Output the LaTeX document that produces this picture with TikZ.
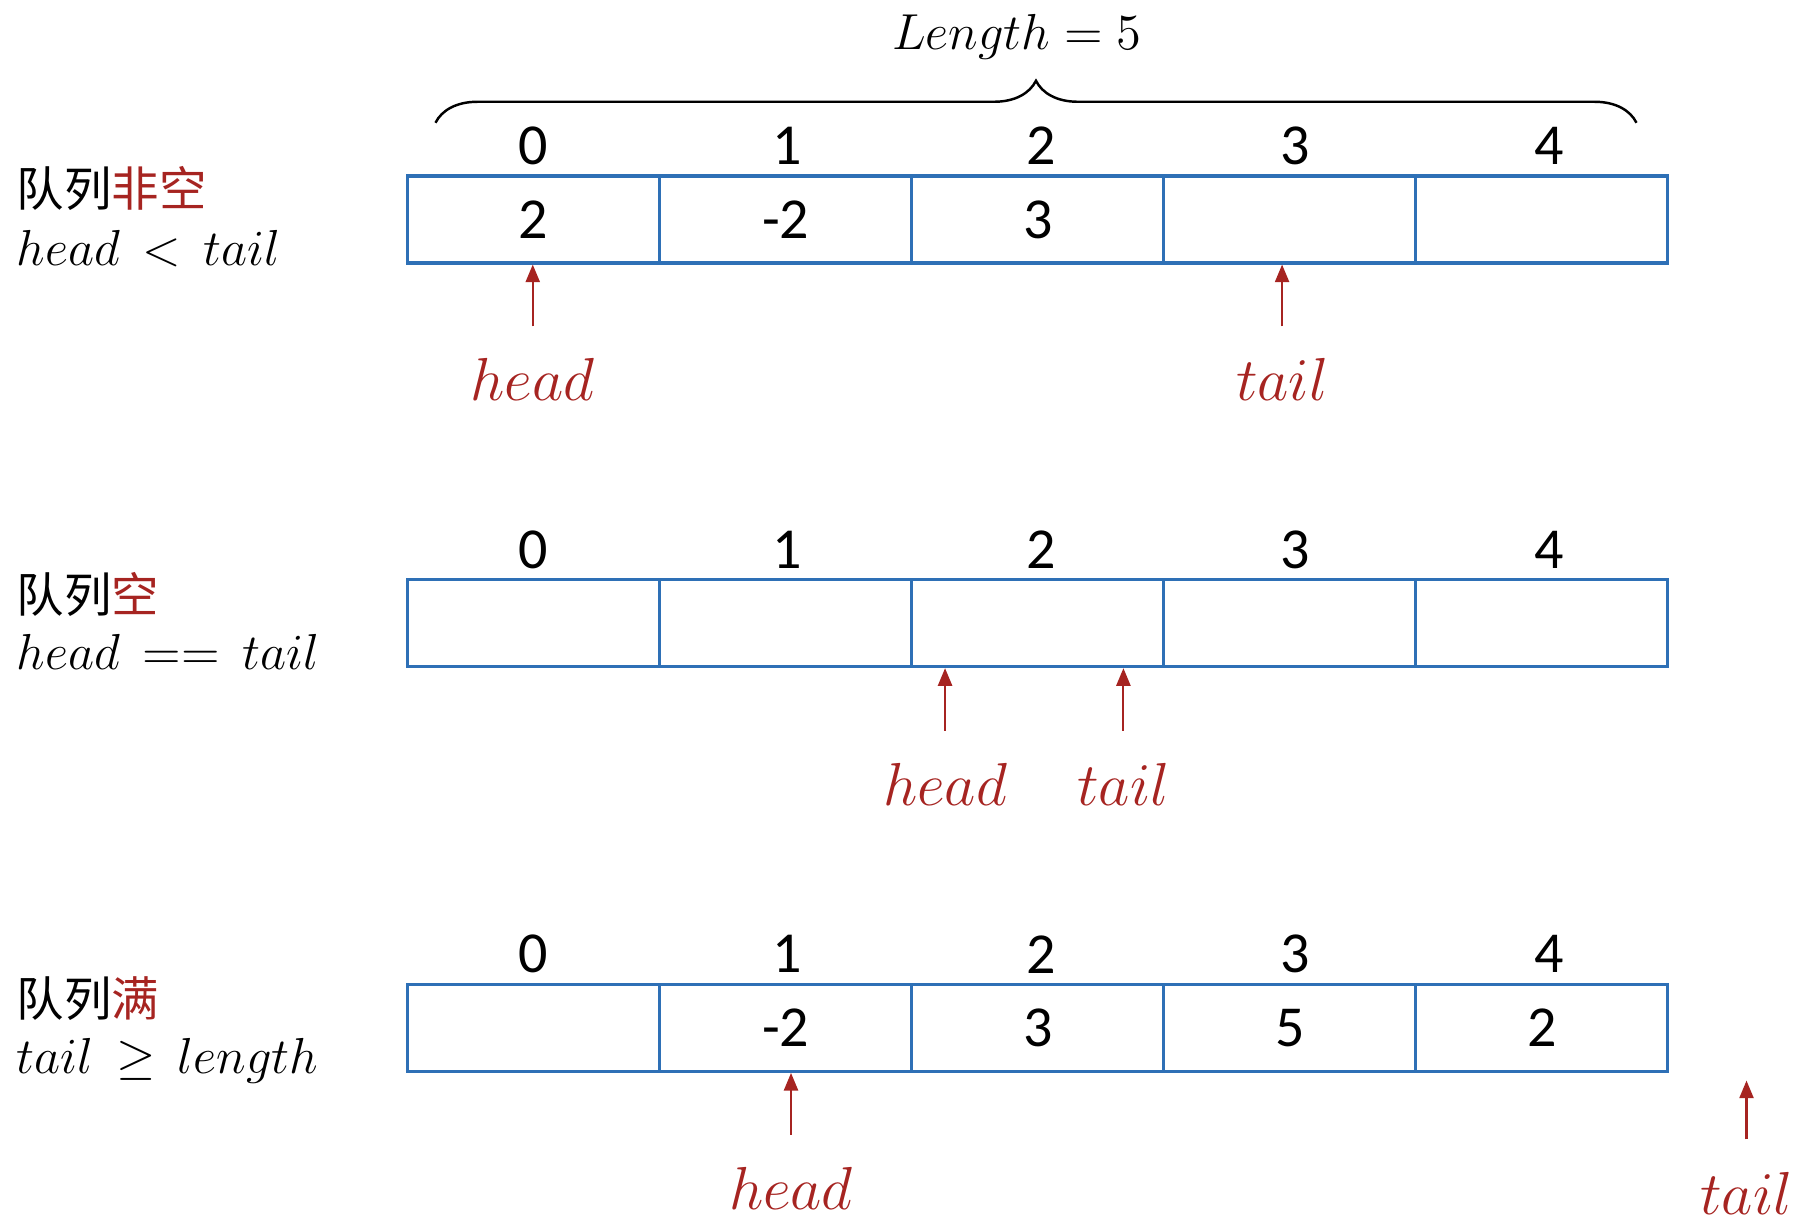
\documentclass[tikz,border=0pt]{standalone}
\usepackage{fontspec}
\setmainfont{Carlito}
\newfontfamily\cjk{Noto Sans CJK SC}
\usetikzlibrary{positioning, arrows.meta, decorations.pathreplacing}
\definecolor{cellblue}{RGB}{46,112,182}
\definecolor{ptrred}{RGB}{166,36,33}

\tikzset{
    cell/.style={draw=cellblue, line width=0.9pt, minimum width=2.52cm, minimum height=0.87cm, inner sep=0pt, font=\fontsize{16.5}{20}\selectfont},
    idx/.style={font=\fontsize{16.5}{20}\selectfont},
    ptr/.style={ptrred, line width=0.6pt, -{Triangle[length=5pt,width=4pt]}},
    ptrlabel/.style={text=ptrred, inner ysep=9pt, font=\fontsize{18}{22}\selectfont},
    cond/.style={anchor=base west, inner sep=0pt, font=\fontsize{15}{18}\selectfont},
    qtitle/.style={anchor=west, inner sep=0pt, font={\cjk\fontsize{13.5}{16}\selectfont}},
    brc/.style={decorate, decoration={brace, amplitude=0.42cm}, line width=0.7pt}
}

\begin{document}
\begin{tikzpicture}[x=0.01158cm, y=-0.01158cm]
    \useasboundingbox (0,0) rectangle (1568,1060);

    % length brace
    \coordinate (bl) at (376,106);
    \coordinate (br) at (1413,106);
    \draw[brc] (bl) -- (br);
    \node[font=\fontsize{14}{17}\selectfont] (len) at (878,32) {$Length = 5$};

    % indices
    \foreach \r/\y in {a/126, b/475, c/824}
        \foreach \i in {0,...,4}
            \node[idx] (\r i\i) at ({460+219.5*\i},\y) {\i};

    % queue not empty
    \node[cell] (a0) at (460.8, 189.5) {2};
    \node[cell] (a1) at (678.4, 189.5) {-2};
    \node[cell] (a2) at (896, 189.5) {3};
    \node[cell] (a3) at (1113.6, 189.5) {};
    \node[cell] (a4) at (1331.2, 189.5) {};
    \node[qtitle] (qa) at (14,163) {队列\textcolor{ptrred}{非空}};
    \node[cond] (ca) at (14,229) {$head \,<\, tail$};
    \node[ptrlabel] (h1) at (460,328) {$head$};
    \node[ptrlabel] (t1) at (1107,328) {$tail$};
    \draw[ptr] (h1) -- (h1 |- a0.south);
    \draw[ptr] (t1) -- (t1 |- a3.south);

    % queue empty
    \node[cell] (b0) at (460.8, 538) {};
    \node[cell] (b1) at (678.4, 538) {};
    \node[cell] (b2) at (896, 538) {};
    \node[cell] (b3) at (1113.6, 538) {};
    \node[cell] (b4) at (1331.2, 538) {};
    \node[qtitle] (qb) at (14,513) {队列\textcolor{ptrred}{空}};
    \node[cond] (cb) at (14,578) {$head \,==\, tail$};
    \node[ptrlabel] (h2) at (816,677) {$head$};
    \node[ptrlabel] (t2) at (970,677) {$tail$};
    \draw[ptr] (h2) -- (h2 |- b2.south);
    \draw[ptr] (t2) -- (t2 |- b2.south);

    % queue full
    \node[cell] (c0) at (460.8, 887.5) {};
    \node[cell] (c1) at (678.4, 887.5) {-2};
    \node[cell] (c2) at (896, 887.5) {3};
    \node[cell] (c3) at (1113.6, 887.5) {5};
    \node[cell] (c4) at (1331.2, 887.5) {2};
    \node[qtitle] (qc) at (14,862) {队列\textcolor{ptrred}{满}};
    \node[cond] (cc) at (14,927) {$tail \,\geq\, length$};
    \node[ptrlabel] (h3) at (683,1026) {$head$};
    \node[ptrlabel] (t3) at (1508,1030) {$tail$};
    \coordinate (t3end) at (1508,933);
    \draw[ptr] (h3) -- (h3 |- c1.south);
    \draw[ptr] (t3) -- (t3end);
\end{tikzpicture}
\end{document}
